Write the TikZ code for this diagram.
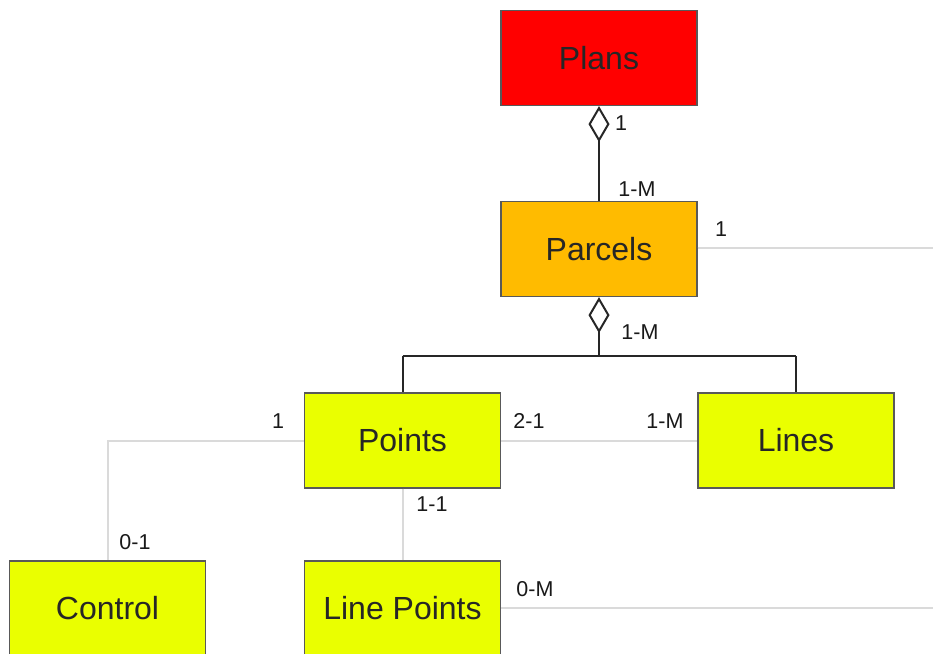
\documentclass[tikz,border=0pt]{standalone}
\usepackage{fontspec}
\setmainfont{Liberation Sans}
\usetikzlibrary{arrows.meta}
\definecolor{planred}{HTML}{FF0000}
\definecolor{parcelor}{HTML}{FFBB00}
\definecolor{ylw}{HTML}{EAFF00}
\definecolor{lgrey}{HTML}{DADADA}
\begin{document}
\begin{tikzpicture}[x=1pt,y=-1pt,
  ent/.style={draw=black!65, line width=1.2pt, minimum width=196pt, minimum height=95pt,
    inner sep=0pt, font=\fontsize{32}{32}\selectfont, text=black!85},
  lbl/.style={font=\fontsize{21.5}{21.5}\selectfont, text=black!90, inner sep=0pt},
  agg/.style={draw=black!85, line width=2pt},
  rel/.style={draw=lgrey, line width=2pt},
  dia/.style={{Diamond[open,length=36pt,width=21pt,line width=2pt]}-}
]
\useasboundingbox (0,0) rectangle (933,653);
\fill[white] (0,0) rectangle (933,653);

\node[ent, fill=planred] (plans) at (599,58) {Plans};
\node[ent, fill=parcelor] (parcels) at (599,249) {Parcels};
\node[ent, fill=ylw] (points) at (402.5,440.5) {Points};
\node[ent, fill=ylw] (lines) at (796,440.5) {Lines};
\node[ent, fill=ylw] (control) at (107.5,608.5) {Control};
\node[ent, fill=ylw] (linepoints) at (402.5,608.5) {Line Points};

\coordinate (bus) at (599,356);
\coordinate (busL) at (402.5,356);
\coordinate (busR) at (796,356);
\coordinate (parcR) at (933,248);
\coordinate (ctrlC) at (108,440.5);
\coordinate (lpR) at (933,608);

% light relations
\draw[rel] (parcels.east |- 0,248) -- (parcR);
\draw[rel] (points.east) -- (lines.west);
\draw[rel] (points.west) -- (ctrlC) -- (control.north -| ctrlC);
\draw[rel] (points.south) -- (linepoints.north);
\draw[rel] (linepoints.east |- 0,608) -- (lpR);

% aggregations
\draw[agg, dia] (plans.south) -- (parcels.north);
\draw[agg, dia] (parcels.south) -- (bus);
\draw[agg] (busL) -- (busR);
\draw[agg] (busL) -- (points.north);
\draw[agg] (busR) -- (lines.north);

% labels
\node[lbl] (l1) at (621,123) {1};
\node[lbl] (l2) at (637,189) {1-M};
\node[lbl] (l3) at (721,229) {1};
\node[lbl] (l4) at (640,332) {1-M};
\node[lbl] (l5) at (278,421) {1};
\node[lbl] (l6) at (529,421) {2-1};
\node[lbl] (l7) at (665,421) {1-M};
\node[lbl] (l8) at (432,504) {1-1};
\node[lbl] (l9) at (135,542) {0-1};
\node[lbl] (l10) at (535,589) {0-M};
\end{tikzpicture}
\end{document}
